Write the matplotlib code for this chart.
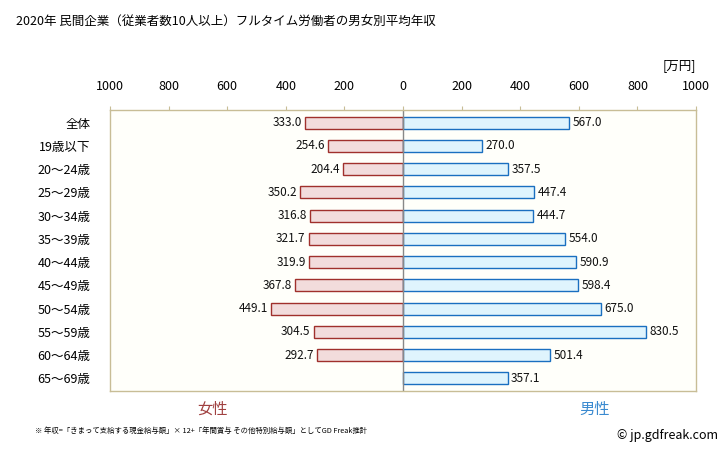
import matplotlib.pyplot as plt
import numpy as np

plt.rcParams['font.family'] = ['Noto Sans CJK JP', 'DejaVu Sans']

# data
categories = ['全体', '19歳以下', '20～24歳', '25～29歳', '30～34歳', '35～39歳',
              '40～44歳', '45～49歳', '50～54歳', '55～59歳', '60～64歳', '65～69歳']
female = [333.0, 254.6, 204.4, 350.2, 316.8, 321.7, 319.9, 367.8, 449.1, 304.5, 292.7, None]
male = [567.0, 270.0, 357.5, 447.4, 444.7, 554.0, 590.9, 598.4, 675.0, 830.5, 501.4, 357.1]
ticks = [-1000, -800, -600, -400, -200, 0, 200, 400, 600, 800, 1000]
tick_labels = ['1000', '800', '600', '400', '200', '0', '200', '400', '600', '800', '1000']

fig = plt.figure(figsize=(7.28, 4.51), dpi=100)
ax = fig.add_axes([110/728, 1 - 391/451, (696-110)/728, (391-110)/451])
ax.set_facecolor('#fffffa')

y = np.arange(len(categories))
h = 0.52
for i, v in enumerate(female):
    if v is None:
        continue
    ax.barh(i, -v, height=h, color='#f2dcdc', edgecolor='#a0302c', linewidth=1.0)
    ax.text(-v - 12, i, f'{v:.1f}', ha='right', va='center', fontsize=8.5, color='#111111')
for i, v in enumerate(male):
    ax.barh(i, v, height=h, color='#dff4fd', edgecolor='#1a6fc0', linewidth=1.0)
    ax.text(v + 12, i, f'{v:.1f}', ha='left', va='center', fontsize=8.5, color='#111111')

ax.axvline(0, color='#888888', linewidth=1.0)
ax.set_xlim(-1000, 1000)
ax.set_ylim(len(categories) - 0.45, -0.55)
ax.set_yticks(y)
ax.set_yticklabels(categories, fontsize=9)
ax.tick_params(axis='y', length=0, pad=14)
ax.xaxis.tick_top()
ax.set_xticks(ticks)
ax.set_xticklabels(tick_labels, fontsize=9)
ax.tick_params(axis='x', length=3, color='#c8bd96', pad=9)
for s in ax.spines.values():
    s.set_color('#c8bd96')
    s.set_linewidth(1.0)

fig.text(16/728, 1 - 22/451, '2020年 民間企業（従業者数10人以上）フルタイム労働者の男女別平均年収',
         fontsize=9, va='center', ha='left')
fig.text(696/728, 1 - 66/451, '[万円]', fontsize=9, va='center', ha='right')
fig.text(212/728, 1 - 409/451, '女性', fontsize=11, color='#a04040', ha='center', va='center')
fig.text(595/728, 1 - 409/451, '男性', fontsize=11, color='#3a8ad0', ha='center', va='center')
fig.text(35/728, 1 - 431/451,
         '※ 年収=「きまって支給する現金給与額」× 12+「年間賞与 その他特別給与額」としてGD Freak推計',
         fontsize=5.3, ha='left', va='center')
fig.text(718/728, 1 - 436/451, '© jp.gdfreak.com', fontsize=9, ha='right', va='center')

fig.savefig('out.png', dpi=100)
